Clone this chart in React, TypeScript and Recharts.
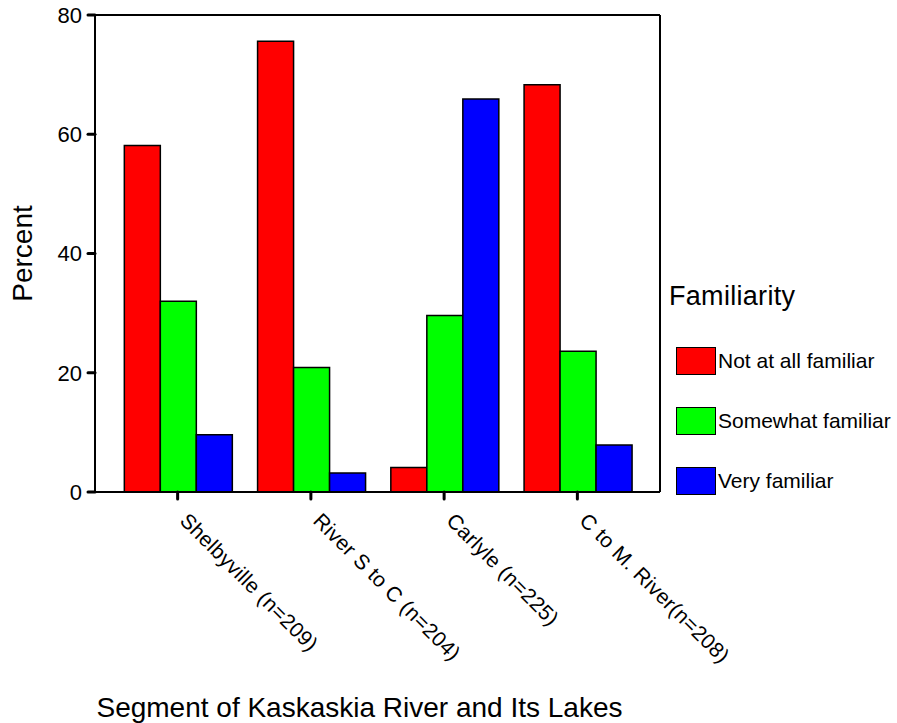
import { Bar, BarChart, CartesianGrid, Label, Legend, XAxis, YAxis } from "recharts";

const FONT = "Arial, 'Liberation Sans', sans-serif";

const segments = [
  "Shelbyville (n=209)",
  "River S to C (n=204)",
  "Carlyle (n=225)",
  "C to M. River(n=208)",
];
const notAtAll = [58.1, 75.6, 4.1, 68.3];
const somewhat = [32.0, 20.9, 29.6, 23.6];
const very = [9.6, 3.2, 65.9, 7.9];
const yTicks = [0, 20, 40, 60, 80];

const seriesInfo = [
  { key: "notAtAll", name: "Not at all familiar", color: "#ff0000" },
  { key: "somewhat", name: "Somewhat familiar", color: "#00ff00" },
  { key: "very", name: "Very familiar", color: "#0000ff" },
];

const data = segments.map((segment, i) => ({
  segment,
  notAtAll: notAtAll[i],
  somewhat: somewhat[i],
  very: very[i],
}));

function SegmentTick(props: any) {
  const { x, y, payload } = props;
  const tx = x + 1;
  const ty = y + 21;
  return (
    <text
      x={tx}
      y={ty}
      transform={`rotate(45 ${tx} ${ty})`}
      textAnchor="start"
      fontFamily={FONT}
      fontSize={21}
      letterSpacing={0.3}
      fill="#000"
    >
      {payload.value}
    </text>
  );
}

function FamiliarityLegend() {
  return (
    <div style={{ position: "relative", width: 237, height: 230, fontFamily: FONT, color: "#000" }}>
      <div style={{ position: "absolute", left: 9, top: 3, fontSize: 27, lineHeight: "27px", letterSpacing: 0.3, whiteSpace: "nowrap" }}>
        Familiarity
      </div>
      {seriesInfo.map((s, i) => (
        <div key={s.key} style={{ position: "absolute", left: 16, top: 67 + i * 60, height: 28, display: "flex", alignItems: "center" }}>
          <div style={{ width: 38, height: 26, background: s.color, border: "1.5px solid #000", boxSizing: "content-box" }} />
          <span style={{ marginLeft: 2, fontSize: 21, whiteSpace: "nowrap" }}>{s.name}</span>
        </div>
      ))}
    </div>
  );
}

export default function App() {
  return (
    <div style={{ position: "absolute", left: 0, top: 0, width: 897, height: 723, background: "#fff" }}>
      <BarChart
        width={897}
        height={723}
        data={data}
        margin={{ top: 15, right: 237, bottom: 0, left: 0 }}
        barCategoryGap="10%"
        barGap={0}
      >
        {/* top and right edges of the plot frame */}
        <CartesianGrid
          stroke="#000"
          strokeWidth={2}
          horizontalCoordinatesGenerator={({ offset }: any) => [offset.top]}
          verticalCoordinatesGenerator={({ offset }: any) => [offset.left + offset.width]}
        />
        <XAxis
          dataKey="segment"
          height={231}
          padding={{ left: 16, right: 16 }}
          axisLine={{ stroke: "#000", strokeWidth: 2 }}
          tickLine={{ stroke: "#000", strokeWidth: 3, strokeLinecap: "round" }}
          tickSize={7}
          tickMargin={2}
          interval={0}
          tick={<SegmentTick />}
        >
          <Label
            content={(p: any) => {
              const vb = p.viewBox;
              return (
                <text x={vb.x + vb.width / 2 - 18} y={vb.y + 225} textAnchor="middle" fontFamily={FONT} fontSize={28} fill="#000">
                  Segment of Kaskaskia River and Its Lakes
                </text>
              );
            }}
          />
        </XAxis>
        <YAxis
          width={95}
          domain={[0, 80]}
          ticks={yTicks}
          axisLine={{ stroke: "#000", strokeWidth: 2 }}
          tickLine={{ stroke: "#000", strokeWidth: 3, strokeLinecap: "round" }}
          tickSize={7}
          tickMargin={6}
          tick={{ fontFamily: FONT, fontSize: 22, fill: "#000" }}
        >
          <Label
            content={(p: any) => {
              const vb = p.viewBox;
              const lx = vb.x + 32;
              const ly = vb.y + vb.height / 2;
              return (
                <text x={lx} y={ly} transform={`rotate(-90 ${lx} ${ly})`} textAnchor="middle" fontFamily={FONT} fontSize={28} fill="#000">
                  Percent
                </text>
              );
            }}
          />
        </YAxis>
        <Legend
          layout="horizontal"
          align="center"
          verticalAlign="middle"
          wrapperStyle={{ position: "absolute", left: 660, top: 280, width: 237, height: 230 }}
          content={() => <FamiliarityLegend />}
        />
        {seriesInfo.map((s) => (
          <Bar
            key={s.key}
            dataKey={s.key}
            name={s.name}
            fill={s.color}
            stroke="#000"
            strokeWidth={1.5}
            isAnimationActive={false}
          />
        ))}
      </BarChart>
    </div>
  );
}
